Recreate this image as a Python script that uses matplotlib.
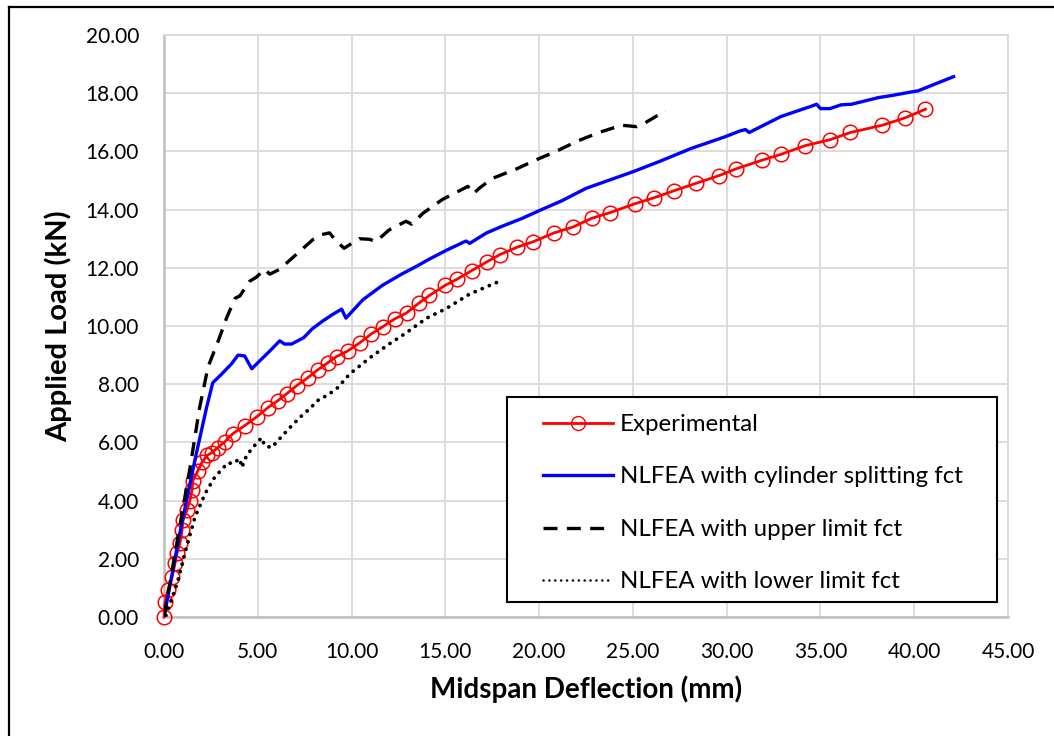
import matplotlib
matplotlib.use("Agg")
import matplotlib.pyplot as plt
from matplotlib.lines import Line2D
from matplotlib.patches import Rectangle

# ---------------- data ----------------
exp_x = [0, 0.05, 0.21, 0.43, 0.59, 0.69, 0.85, 0.96, 1.01, 1.22, 1.38, 1.49, 1.54, 1.81,
         2.02, 2.29, 2.55, 2.87, 3.24, 3.67, 4.31, 4.95, 5.53, 6.06, 6.54, 7.07, 7.66, 8.19,
         8.72, 9.20, 9.79, 10.43, 11.06, 11.65, 12.29, 12.93, 13.60, 14.15, 15.00, 15.60,
         16.40, 17.20, 17.90, 18.80, 19.70, 20.80, 21.80, 22.80, 23.80, 25.10, 26.10, 27.20,
         28.35, 29.60, 30.50, 31.90, 32.90, 34.20, 35.50, 36.60, 38.30, 39.50, 40.60]
exp_y = [0, 0.51, 0.92, 1.37, 1.85, 2.19, 2.53, 2.98, 3.32, 3.66, 4.00, 4.35, 4.69, 5.03,
         5.31, 5.55, 5.65, 5.82, 6.02, 6.30, 6.58, 6.88, 7.19, 7.43, 7.67, 7.95, 8.22, 8.49,
         8.73, 8.95, 9.14, 9.42, 9.73, 9.97, 10.24, 10.45, 10.79, 11.05, 11.40, 11.60,
         11.90, 12.20, 12.45, 12.70, 12.90, 13.20, 13.40, 13.70, 13.90, 14.20, 14.40, 14.65,
         14.90, 15.17, 15.40, 15.70, 15.90, 16.20, 16.40, 16.65, 16.90, 17.15, 17.45]

cyl_x = [0, 0.85, 1.65, 2.27, 2.60, 3.00, 3.60, 3.95, 4.30, 4.68, 5.10, 5.64, 6.17, 6.43,
         6.80, 7.45, 7.90, 8.46, 9.00, 9.47, 9.70, 10.60, 11.65, 12.66, 13.46, 14.15, 15.05,
         16.10, 16.30, 17.20, 18.00, 19.10, 20.20, 21.20, 22.50, 25.00, 26.40, 28.10, 29.90,
         30.70, 31.00, 31.20, 32.90, 34.50, 34.80, 35.00, 35.50, 36.10, 36.65, 38.10, 38.80,
         39.90, 40.20, 42.10]
cyl_y = [0, 2.90, 5.40, 7.20, 8.05, 8.30, 8.70, 9.00, 8.97, 8.53, 8.80, 9.14, 9.49, 9.38,
         9.38, 9.60, 9.90, 10.17, 10.40, 10.58, 10.27, 10.90, 11.40, 11.78, 12.05, 12.30, 12.60,
         12.92, 12.84, 13.20, 13.42, 13.70, 14.02, 14.30, 14.73, 15.30, 15.65, 16.10, 16.50,
         16.70, 16.75, 16.65, 17.20, 17.55, 17.62, 17.47, 17.47, 17.60, 17.62, 17.85, 17.92,
         18.05, 18.08, 18.57]

up_x = [0, 1.38, 1.90, 2.35, 2.90, 3.35, 3.80, 4.04, 4.57, 4.93, 5.37, 5.64, 6.17, 7.07,
        7.94, 8.40, 8.83, 9.10, 9.60, 10.40, 10.96, 11.30, 12.00, 12.90, 13.20, 13.80, 14.85,
        16.00, 16.20, 16.50, 16.80, 17.50, 18.80, 19.80, 20.90, 22.10, 23.20, 24.40, 25.20,
        25.70, 26.75]
up_y = [0, 5.10, 7.20, 8.60, 9.50, 10.30, 10.96, 11.03, 11.54, 11.68, 11.95, 11.78, 11.95,
        12.47, 12.97, 13.14, 13.20, 12.98, 12.67, 13.00, 12.98, 12.90, 13.30, 13.60, 13.50,
        13.87, 14.35, 14.73, 14.80, 14.55, 14.73, 15.07, 15.40, 15.70, 16.00, 16.37, 16.65,
        16.90, 16.85, 17.00, 17.40]

low_x = [0.10, 0.70, 1.20, 1.65, 2.20, 2.70, 3.40, 3.67, 4.04, 4.15, 4.40, 4.73, 5.20, 5.37,
         5.74, 6.17, 6.70, 7.23, 7.77, 8.30, 8.67, 9.26, 9.90, 10.96, 12.00, 12.90, 14.00,
         15.05, 16.30, 17.90]
low_y = [0.05, 1.15, 2.40, 3.43, 4.25, 4.80, 5.30, 5.27, 5.44, 5.14, 5.55, 5.82, 6.16, 5.89,
         5.82, 6.13, 6.50, 6.85, 7.16, 7.50, 7.60, 7.88, 8.35, 8.90, 9.38, 9.76, 10.27, 10.60,
         11.10, 11.54]

labels = ["Experimental", "NLFEA with cylinder splitting fct",
          "NLFEA with upper limit fct", "NLFEA with lower limit fct"]
x_ticks = [0, 5, 10, 15, 20, 25, 30, 35, 40, 45]
y_ticks = [0, 2, 4, 6, 8, 10, 12, 14, 16, 18, 20]
x_label = "Midspan Deflection (mm)"
y_label = "Applied Load (kN)"

# ---------------- figure ----------------
FONT = ["Lato", "DejaVu Sans"]
plt.rcParams["font.family"] = FONT

W, H = 1054, 736
fig = plt.figure(figsize=(W / 100, H / 100), dpi=100)
ax = fig.add_axes([164 / W, 1 - 617 / H, (1008 - 164) / W, (617 - 35) / H])

# figure frame (left and top)
fig.add_artist(Line2D([9 / W, 9 / W], [0, 1 - 7 / H], color="black", lw=1.6,
                      transform=fig.transFigure))
fig.add_artist(Line2D([9 / W, 1], [1 - 7 / H, 1 - 7 / H], color="black", lw=1.6,
                      transform=fig.transFigure))

ax.set_xlim(0, 45)
ax.set_ylim(0, 20)
ax.set_xticks(x_ticks)
ax.set_yticks(y_ticks)
ax.set_xticklabels([f"{v:.2f}" for v in x_ticks])
ax.set_yticklabels([f"{v:.2f}" for v in y_ticks])
ax.tick_params(axis="both", length=0, labelsize=15, colors="black")
ax.tick_params(axis="x", pad=18)
ax.tick_params(axis="y", pad=18)
ax.grid(True, color="#d9d9d9", lw=1.3)
ax.set_axisbelow(True)
for s in ["top", "right"]:
    ax.spines[s].set_color("#d9d9d9")
    ax.spines[s].set_linewidth(1.3)
for s in ["left", "bottom"]:
    ax.spines[s].set_color("#bfbfbf")
    ax.spines[s].set_linewidth(1.8)

ax.set_xlabel(x_label, fontsize=20, fontweight="bold", labelpad=10)
ax.set_ylabel(y_label, fontsize=21, fontweight="bold", labelpad=10)

l1, = ax.plot(exp_x, exp_y, color="#ff0000", lw=2.0, marker="o", markersize=10.5,
              markerfacecolor="none", markeredgecolor="#ff0000", markeredgewidth=1.1,
              label=labels[0], zorder=3, clip_on=False)
l2, = ax.plot(cyl_x, cyl_y, color="#0000ff", lw=2.4, label=labels[1], zorder=4,
              solid_joinstyle="round")
l3, = ax.plot(up_x, up_y, color="black", lw=2.4, linestyle=(0, (4.2, 2.8)),
              label=labels[2], zorder=5)
l4, = ax.plot(low_x, low_y, color="black", lw=2.7, linestyle=(0, (0.05, 2.0)),
              dash_capstyle="round", label=labels[3], zorder=5)

# legend handles
h1 = Line2D([], [], color="#ff0000", lw=2.0, marker="o", markersize=10,
            markerfacecolor="none", markeredgecolor="#ff0000", markeredgewidth=1.0)
h2 = Line2D([], [], color="#0000ff", lw=2.4)
h3 = Line2D([], [], color="black", lw=2.4, linestyle=(0, (4.2, 2.8)))
h4 = Line2D([], [], color="black", lw=1.8, linestyle=(0, (0.05, 2.3)), dash_capstyle="round")

def ax_x(px):
    return (px - 164) / (1008 - 164)

def ax_y(py):
    return (617 - py) / (617 - 35)

leg = ax.legend([h1, h2, h3, h4], labels, loc="upper left",
                bbox_to_anchor=(ax_x(543), ax_y(414)), borderaxespad=0, borderpad=0,
                frameon=False, fontsize=17.3, handlelength=2.9, handletextpad=0.3,
                labelspacing=1.31)
ax.add_patch(Rectangle((ax_x(507), ax_y(602)), ax_x(997) - ax_x(507),
                       ax_y(397) - ax_y(602), transform=ax.transAxes, fill=True,
                       facecolor="white", edgecolor="black", lw=1.5, zorder=6,
                       clip_on=False))
leg.set_zorder(7)

fig.savefig("out.png", dpi=100)
